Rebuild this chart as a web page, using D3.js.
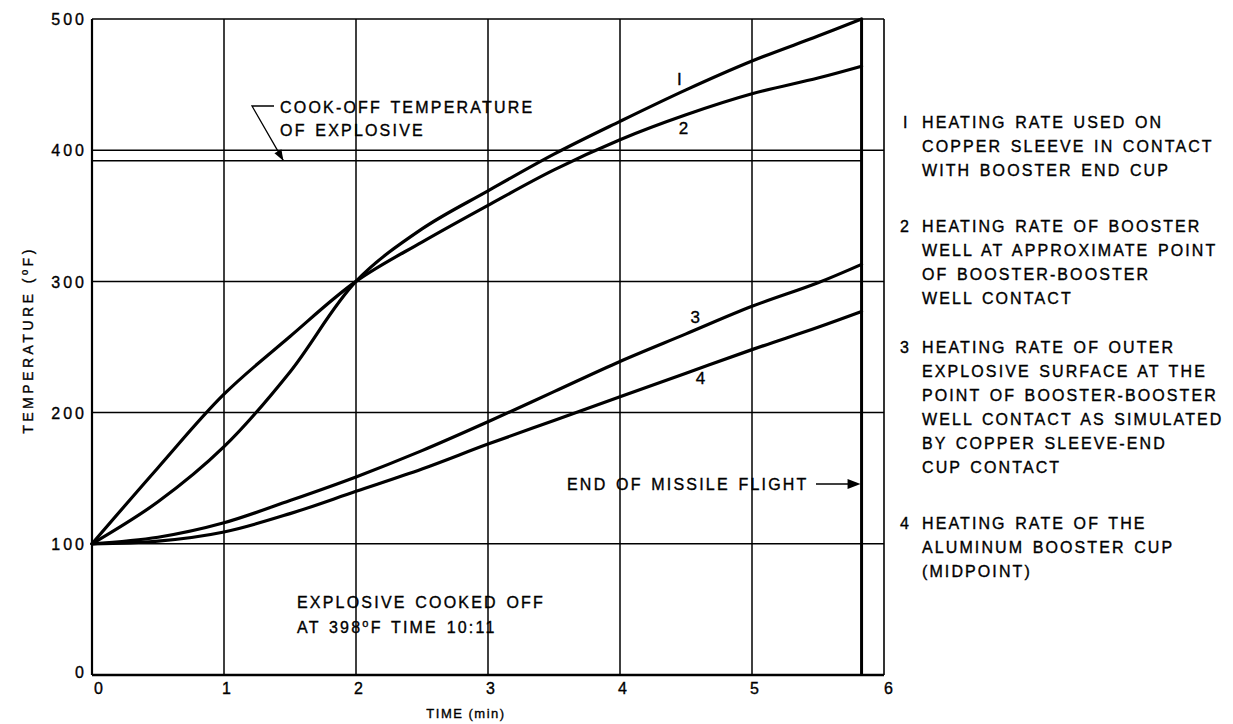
<!DOCTYPE html>
<html><head><meta charset="utf-8">
<script src="https://cdn.jsdelivr.net/npm/d3@7"></script>
<style>
html,body{margin:0;padding:0;background:#fff;}
svg{display:block;font-family:"Liberation Sans",Arial,sans-serif;}
text{fill:#000;stroke:#000;stroke-width:0.35px;}
</style></head><body>
<svg id="c" width="1233" height="724"></svg>
<script>
// ---- data ----
const times = [0, 0.5, 1, 1.5, 2, 2.5, 3, 3.5, 4, 4.5, 5, 5.5, 5.83];
const curve1 = [100, 132, 174, 231, 300, 340, 369, 397, 422, 446, 468, 487, 500];
const curve2 = [100, 158, 214, 258, 300, 330, 358, 385, 408, 427, 443, 455, 464];
const curve3 = [100, 105, 116, 133, 151, 171, 193, 216, 239, 260, 281, 299, 313];
const curve4 = [100, 102, 109, 123, 140, 157, 176, 194, 212, 230, 248, 265, 277];
const seriesNames = ["I", "2", "3", "4"];
const xTicks = [0, 1, 2, 3, 4, 5, 6];
const yTicks = [0, 100, 200, 300, 400, 500];
const cookOffTemp = 392;
const endOfFlight = 5.83;
const legendBlocks = [
  ["I", ["HEATING RATE USED ON", "COPPER SLEEVE IN CONTACT", "WITH BOOSTER END CUP"]],
  ["2", ["HEATING RATE OF BOOSTER", "WELL AT APPROXIMATE POINT", "OF BOOSTER-BOOSTER", "WELL CONTACT"]],
  ["3", ["HEATING RATE OF OUTER", "EXPLOSIVE SURFACE AT THE", "POINT OF BOOSTER-BOOSTER", "WELL CONTACT AS SIMULATED", "BY COPPER SLEEVE-END", "CUP CONTACT"]],
  ["4", ["HEATING RATE OF THE", "ALUMINUM BOOSTER CUP", "(MIDPOINT)"]]
];

const svg = d3.select("#c");
svg.append("rect").attr("width",1233).attr("height",724).attr("fill","#fff");

const x = d3.scaleLinear().domain([0, 6]).range([92, 884]);
const y = d3.scaleLinear().domain([0, 500]).range([675, 19]);

const g = svg.append("g");

// grid
g.selectAll(".vg").data(xTicks.filter(d => d > 0 && d < 6)).enter().append("line")
  .attr("x1", d => x(d)).attr("x2", d => x(d)).attr("y1", y(500)).attr("y2", y(0))
  .attr("stroke", "#000").attr("stroke-width", 1.5);
g.selectAll(".hg").data(yTicks.filter(d => d > 0 && d < 500)).enter().append("line")
  .attr("x1", x(0)).attr("x2", x(6)).attr("y1", d => y(d)).attr("y2", d => y(d))
  .attr("stroke", "#000").attr("stroke-width", 1.5);

// frame
g.append("line").attr("x1", x(0)).attr("x2", x(6)).attr("y1", y(500)).attr("y2", y(500)).attr("stroke","#000").attr("stroke-width",1.6);
g.append("line").attr("x1", x(6)).attr("x2", x(6)).attr("y1", y(500)).attr("y2", y(0)).attr("stroke","#000").attr("stroke-width",1.6);
g.append("line").attr("x1", x(0)).attr("x2", x(0)).attr("y1", y(500)).attr("y2", y(0)).attr("stroke","#000").attr("stroke-width",2.2);
g.append("line").attr("x1", x(0)).attr("x2", x(6)).attr("y1", y(0)).attr("y2", y(0)).attr("stroke","#000").attr("stroke-width",2.5);

// cook-off line
g.append("line").attr("x1", x(0)).attr("x2", x(endOfFlight)).attr("y1", y(cookOffTemp)).attr("y2", y(cookOffTemp))
  .attr("stroke","#000").attr("stroke-width",1.6);
// end of flight line
g.append("line").attr("x1", x(endOfFlight)).attr("x2", x(endOfFlight)).attr("y1", y(500)).attr("y2", y(0))
  .attr("stroke","#000").attr("stroke-width",3);

// curves
const line = d3.line().x(d => x(d[0])).y(d => y(d[1])).curve(d3.curveCatmullRom.alpha(0.5));
[curve1, curve2, curve3, curve4].forEach(vals => {
  g.append("path").datum(times.map((t, i) => [t, vals[i]]))
    .attr("d", line).attr("fill", "none").attr("stroke", "#000").attr("stroke-width", 3.2)
    .attr("stroke-linejoin","round").attr("stroke-linecap","round");
});

// curve labels
const lblPos = [[4.45, 450], [4.48, 412], [4.57, 268], [4.61, 222]];
g.selectAll(".cl").data(lblPos).enter().append("text")
  .attr("x", d => x(d[0])).attr("y", d => y(d[1])).attr("text-anchor","middle")
  .attr("font-size", 17).text((d, i) => seriesNames[i]);

// axes
const xAxis = d3.axisBottom(x).tickValues(xTicks).tickSize(0).tickPadding(8).tickFormat(d3.format("d"));
const xa = svg.append("g").attr("transform", `translate(0,${y(0)})`).call(xAxis);
xa.select(".domain").remove();
xa.selectAll("text").attr("font-size", 16).attr("font-family","Liberation Sans, Arial, sans-serif").attr("fill","#000")
  .attr("dx", d => d === 0 ? 6 : (d === 6 ? 4 : 2));

const yAxis = d3.axisLeft(y).tickValues(yTicks).tickSize(0).tickPadding(7).tickFormat(d3.format("d"));
const ya = svg.append("g").attr("transform", `translate(${x(0)},0)`).call(yAxis);
ya.select(".domain").remove();
ya.selectAll("text").attr("font-size", 16).attr("font-family","Liberation Sans, Arial, sans-serif").attr("fill","#000")
  .attr("letter-spacing", 3).attr("dx", 2).attr("dy", d => d === 0 ? "0.15em" : "0.35em");

// axis titles
svg.append("text").attr("transform", `translate(33,340) rotate(-90)`).attr("text-anchor","middle")
  .attr("font-size", 14).attr("letter-spacing", 3.5).text("TEMPERATURE (ºF)");
svg.append("text").attr("x", 466).attr("y", 718).attr("text-anchor","middle")
  .attr("font-size", 13).attr("letter-spacing", 1.5).text("TIME (min)");

// cook-off annotation
const ann = svg.append("g").attr("font-size", 16).attr("letter-spacing", 2.2).attr("word-spacing", 2);
ann.append("text").attr("x", 280).attr("y", 113).text("COOK-OFF TEMPERATURE");
ann.append("text").attr("x", 280).attr("y", 136).text("OF  EXPLOSIVE");
svg.append("path").attr("d", `M274,106 L252,106 L${x(1.45)},${y(cookOffTemp)}`)
  .attr("fill","none").attr("stroke","#000").attr("stroke-width",1.3);
{
  const tx = x(1.45), ty = y(cookOffTemp);
  const ang = Math.atan2(ty - 106, tx - 252);
  const L = 11, W = 4;
  const bx = tx - L*Math.cos(ang), by = ty - L*Math.sin(ang);
  const px = -Math.sin(ang)*W, py = Math.cos(ang)*W;
  svg.append("path").attr("d", `M${tx},${ty} L${bx+px},${by+py} L${bx-px},${by-py} Z`).attr("fill","#000");
}

// explosive cooked off annotation
ann.append("text").attr("x", 297).attr("y", 608).text("EXPLOSIVE  COOKED OFF");
const t2 = ann.append("text").attr("x", 297).attr("y", 633);
t2.append("tspan").text("AT  398");
t2.append("tspan").attr("dy", -6).attr("font-size", 11).text("o");
t2.append("tspan").attr("dy", 6).text("F  TIME  10:11");

// end of missile flight
ann.append("text").attr("x", 567).attr("y", 490).text("END OF MISSILE FLIGHT");
svg.append("line").attr("x1", 816).attr("x2", x(endOfFlight) - 8).attr("y1", 484).attr("y2", 484)
  .attr("stroke","#000").attr("stroke-width",1.5);
svg.append("path").attr("d", `M${x(endOfFlight)-1},484 L${x(endOfFlight)-14},479 L${x(endOfFlight)-14},489 Z`).attr("fill","#000");

// legend
const legTop = [128, 232, 353, 529];
const lg = svg.append("g").attr("font-size", 16).attr("letter-spacing", 2.1).attr("word-spacing", 2);
legendBlocks.forEach((b, i) => {
  lg.append("text").attr("x", b[0] === "I" ? 903 : 900).attr("y", legTop[i]).text(b[0]);
  b[1].forEach((s, j) => {
    lg.append("text").attr("x", 922).attr("y", legTop[i] + j * 24).text(s);
  });
});
</script>
</body></html>
